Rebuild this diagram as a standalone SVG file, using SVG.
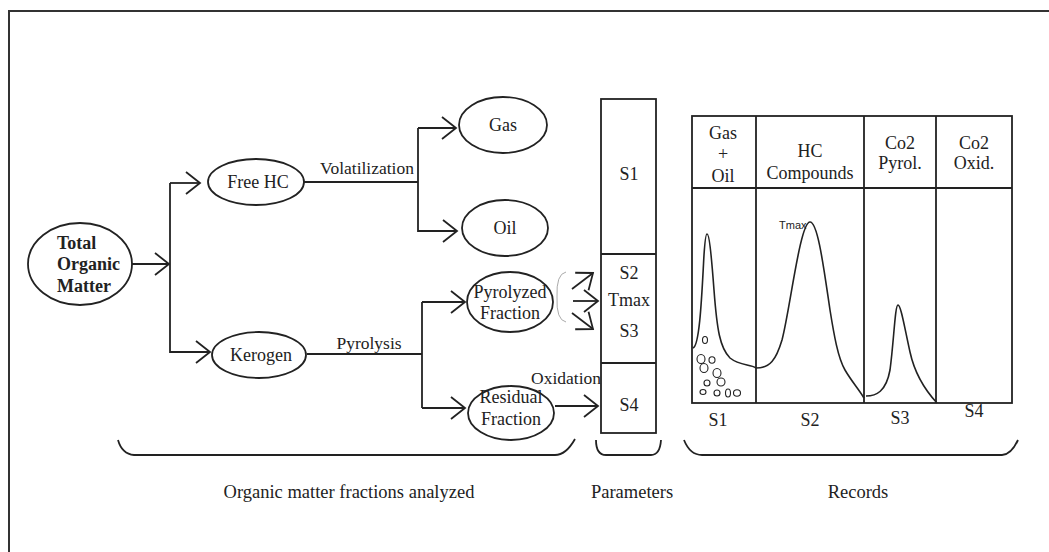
<svg xmlns="http://www.w3.org/2000/svg" width="1049" height="552" viewBox="0 0 1049 552">
<style>
  .ln{fill:none;stroke:#222;stroke-width:1.8}
  .nd{fill:#fff;stroke:#222;stroke-width:1.8}
  .t{font-family:"Liberation Serif","Times New Roman",serif;font-size:17.5px;fill:#222;text-anchor:middle}
  .tl{font-family:"Liberation Serif","Times New Roman",serif;font-size:18px;fill:#222;text-anchor:middle}
  .tf{font-family:"Liberation Serif","Times New Roman",serif;font-size:18.5px;fill:#222;text-anchor:middle}
  .tb{font-family:"Liberation Serif","Times New Roman",serif;font-size:18px;font-weight:bold;fill:#222}
  .ts{font-family:"Liberation Sans",Arial,sans-serif;font-size:11px;fill:#222}
  .crv{fill:none;stroke:#222;stroke-width:1.6}
  .dot{fill:none;stroke:#222;stroke-width:1.1}
</style>
<defs>
  <marker id="arr" viewBox="-16 -13 18 26" refX="0" refY="0" markerWidth="18" markerHeight="26" markerUnits="userSpaceOnUse" orient="auto">
    <path d="M-14,-11 L0,0 L-14,11" fill="none" stroke="#222" stroke-width="1.8"/>
  </marker>
</defs>
<rect width="1049" height="552" fill="#fff"/>
<path d="M9,552 V11 H1049" fill="none" stroke="#333" stroke-width="2"/>

<g id="connectors">
  <path class="ln" d="M132,264 H169" marker-end="url(#arr)"/>
  <path class="ln" d="M170,183 V353"/>
  <path class="ln" d="M170,183 H200" marker-end="url(#arr)"/>
  <path class="ln" d="M170,352 H210" marker-end="url(#arr)"/>
  <path class="ln" d="M304,182 H418"/>
  <path class="ln" d="M418,128 V232"/>
  <path class="ln" d="M418,128 H456" marker-end="url(#arr)"/>
  <path class="ln" d="M418,231 H457" marker-end="url(#arr)"/>
  <path class="ln" d="M307,354 H422"/>
  <path class="ln" d="M422,302 V408"/>
  <path class="ln" d="M422,302 H465" marker-end="url(#arr)"/>
  <path class="ln" d="M422,408 H465" marker-end="url(#arr)"/>
  <path class="ln" d="M555,406 H598" marker-end="url(#arr)"/>
  <path class="ln" d="M572,289 L593,273" marker-end="url(#arr)"/>
  <path class="ln" d="M573,301 H598" marker-end="url(#arr)"/>
  <path class="ln" d="M572,313 L593,329" marker-end="url(#arr)"/>
  <path d="M566,272 Q556,274 557,297 Q556,320 566,322" fill="none" stroke="#aaa" stroke-width="1"/>
  <text class="t" x="367" y="174">Volatilization</text>
  <text class="t" x="369" y="349">Pyrolysis</text>
  <text class="t" x="566" y="384">Oxidation</text>
</g>

<g id="tom">
  <ellipse class="nd" cx="80" cy="264" rx="52" ry="41"/>
  <text class="tb" x="57" y="249">Total</text>
  <text class="tb" x="57" y="270">Organic</text>
  <text class="tb" x="57" y="292">Matter</text>
</g>
<g id="freehc">
  <ellipse class="nd" cx="256" cy="182" rx="48" ry="23"/>
  <text class="tl" x="258" y="188">Free HC</text>
</g>
<g id="kerogen">
  <ellipse class="nd" cx="259" cy="355" rx="47" ry="23"/>
  <text class="tl" x="261" y="361">Kerogen</text>
</g>
<g id="gas">
  <ellipse class="nd" cx="503" cy="125" rx="44" ry="28"/>
  <text class="tl" x="503" y="131">Gas</text>
</g>
<g id="oil">
  <ellipse class="nd" cx="505" cy="228" rx="43" ry="28"/>
  <text class="tl" x="505" y="234">Oil</text>
</g>
<g id="pyrolyzed">
  <ellipse class="nd" cx="510" cy="302" rx="43" ry="30"/>
  <text class="tl" x="510" y="298">Pyrolyzed</text>
  <text class="tl" x="510" y="319">Fraction</text>
</g>
<g id="residual">
  <ellipse class="nd" cx="511" cy="413" rx="43" ry="27"/>
  <text class="tl" x="511" y="403">Residual</text>
  <text class="tl" x="511" y="425">Fraction</text>
</g>

<g id="parameters">
  <rect class="nd" x="601" y="99" width="55" height="334"/>
  <path class="ln" d="M601,254 H656 M601,363 H656"/>
  <text class="tl" x="629" y="180">S1</text>
  <text class="tl" x="629" y="279">S2</text>
  <text class="tl" x="629" y="306">Tmax</text>
  <text class="tl" x="629" y="337">S3</text>
  <text class="tl" x="629" y="411">S4</text>
</g>

<g id="records">
  <rect class="nd" x="692" y="116" width="320" height="287"/>
  <path class="ln" d="M692,188 H1012 M756,116 V403 M864,116 V403 M936,116 V403"/>
  <text class="tl" x="723" y="139">Gas</text>
  <text class="tl" x="723" y="160">+</text>
  <text class="tl" x="723" y="182">Oil</text>
  <text class="tl" x="810" y="157">HC</text>
  <text class="tl" x="810" y="179">Compounds</text>
  <text class="tl" x="900" y="149">Co2</text>
  <text class="tl" x="900" y="169">Pyrol.</text>
  <text class="tl" x="974" y="149">Co2</text>
  <text class="tl" x="974" y="169">Oxid.</text>
  <path class="crv" d="M693,348 C700,346 702,290 704,255 C705,240 706,234 707,234 C709,234 711,250 714,290 C717,330 720,348 730,358 C740,366 750,364 756,368"/>
  <path class="crv" d="M756,368 C770,368 776,360 782,340 C790,310 800,222 810,222 C818,222 824,270 830,310 C834,335 838,358 845,370 C852,382 858,388 864,398"/>
  <path class="crv" d="M866,396 C876,396 886,392 890,370 C894,340 895,305 898,305 C901,305 905,330 910,352 C915,375 925,390 937,403"/>
  <text class="ts" x="779" y="229">Tmax</text>
  <ellipse class="dot" cx="705" cy="340" rx="2.5" ry="3.5"/>
  <ellipse class="dot" cx="701" cy="359" rx="4" ry="4.5"/>
  <ellipse class="dot" cx="712" cy="360" rx="3" ry="3.2"/>
  <ellipse class="dot" cx="704" cy="368" rx="4" ry="4.5"/>
  <ellipse class="dot" cx="717" cy="373" rx="4" ry="4.5"/>
  <ellipse class="dot" cx="721" cy="382" rx="4" ry="4"/>
  <ellipse class="dot" cx="707" cy="383" rx="3" ry="3"/>
  <ellipse class="dot" cx="703" cy="392" rx="3" ry="2.5"/>
  <ellipse class="dot" cx="717" cy="393" rx="3" ry="3"/>
  <ellipse class="dot" cx="728" cy="393" rx="2.5" ry="4"/>
  <ellipse class="dot" cx="737" cy="393" rx="3.5" ry="3.2"/>
  <text class="tl" x="718" y="426">S1</text>
  <text class="tl" x="810" y="426">S2</text>
  <text class="tl" x="900" y="424">S3</text>
  <text class="tl" x="974" y="417">S4</text>
</g>

<g id="braces">
  <path class="ln" d="M118,440 Q122,454 134,455 H555 Q566,455 575,439" stroke-width="1.5"/>
  <path class="ln" d="M596,440 Q596,455 606,455 H651 Q660,455 661,440" stroke-width="1.5"/>
  <path class="ln" d="M684,440 Q690,455 702,455 H1002 Q1011,455 1018,440" stroke-width="1.5"/>
  <text class="tf" x="349" y="498">Organic matter fractions analyzed</text>
  <text class="tf" x="632" y="498">Parameters</text>
  <text class="tf" x="858" y="498">Records</text>
</g>
</svg>
